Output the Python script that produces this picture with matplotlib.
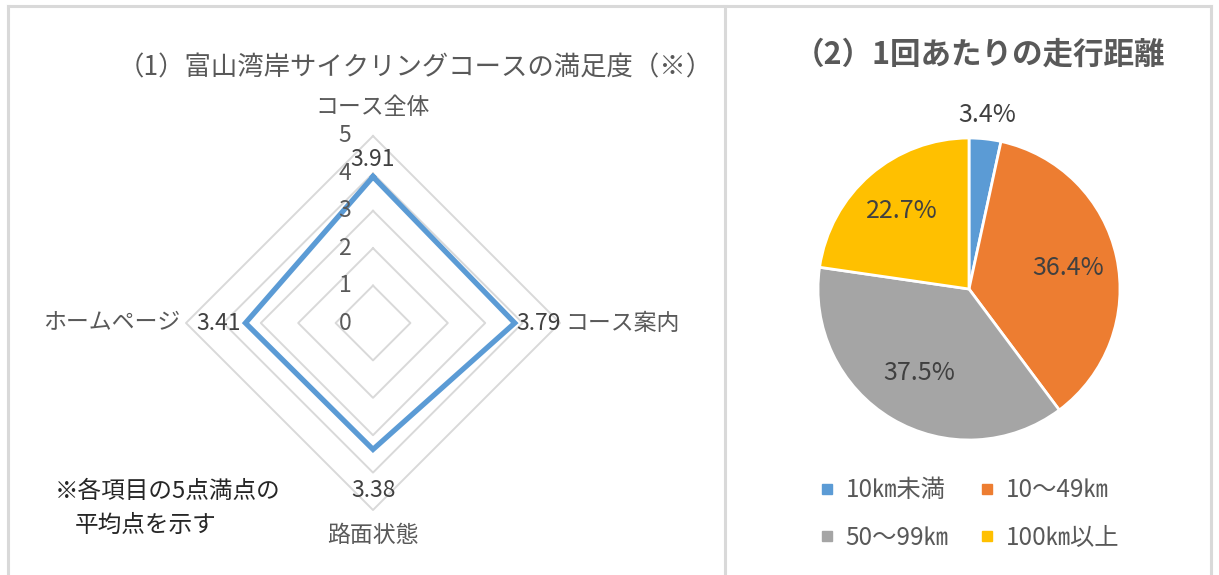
import numpy as np
import matplotlib
matplotlib.use("Agg")
import matplotlib.pyplot as plt
from matplotlib.lines import Line2D

plt.rcParams['font.family'] = ['Noto Sans CJK JP', 'DejaVu Sans']

# radar data
radar_labels = ["コース全体", "コース案内", "路面状態", "ホームページ"]
radar_values = [3.91, 3.79, 3.38, 3.41]
radar_ticks = [0, 1, 2, 3, 4, 5]

# pie data
pie_labels = ["10㎞未満", "10～49㎞", "50～99㎞", "100㎞以上"]
pie_values = [3.4, 36.4, 37.5, 22.7]
pie_colors = ["#5b9bd5", "#ed7d31", "#a5a5a5", "#ffc000"]

W, H = 1219, 575
fig = plt.figure(figsize=(W / 100, H / 100), dpi=100)

def fx(px):
    return px / W

def fy(py):
    return 1 - py / H

# panel borders
border = "#d9d9d9"
for xs, ys in [([8, 1211], [6, 6]), ([8, 8], [6, 575]),
               ([724.5, 724.5], [6, 575]), ([1211, 1211], [6, 575])]:
    fig.add_artist(Line2D([fx(x) for x in xs], [fy(y) for y in ys],
                          color=border, lw=2.2))

# ---- radar chart (left) ----
cx, cy, unit = 373, 323, 37.4
half = 250
ax = fig.add_axes([fx(cx - half), fy(cy + half), half * 2 / W, half * 2 / H])
R = half / unit
ax.set_xlim(-R, R)
ax.set_ylim(-R, R)
ax.axis("off")

ang = np.pi / 2 - np.arange(len(radar_labels)) * 2 * np.pi / len(radar_labels)
ang_c = np.append(ang, ang[0])
for t in radar_ticks[1:]:
    ax.plot(t * np.cos(ang_c), t * np.sin(ang_c), color="#d9d9d9", lw=1.4)

vals = np.append(radar_values, radar_values[0])
ax.plot(vals * np.cos(ang_c), vals * np.sin(ang_c), color="#5b9bd5", lw=3.8,
        solid_joinstyle="miter")

fs = 16.5
for t in radar_ticks:
    ax.text(-0.75, t, str(t), ha="center", va="center", fontsize=fs, color="#595959")

gray = "#595959"
# category labels
ax.text(0, 5.75, radar_labels[0], ha="center", va="center", fontsize=fs, color=gray)
ax.text(5.15, 0, radar_labels[1], ha="left", va="center", fontsize=fs, color=gray)
ax.text(0, -5.67, radar_labels[2], ha="center", va="center", fontsize=fs, color=gray)
ax.text(-5.15, 0, radar_labels[3], ha="right", va="center", fontsize=fs, color=gray)

# value labels
dark = "#404040"
ax.text(0, 4.36, f"{radar_values[0]:.2f}", ha="center", va="center", fontsize=fs, color=dark)
ax.text(radar_values[1] + 0.05, 0, f"{radar_values[1]:.2f}", ha="left", va="center", fontsize=fs, color=dark)
ax.text(0, -4.47, f"{radar_values[2]:.2f}", ha="center", va="center", fontsize=fs, color=dark)
ax.text(-radar_values[3] - 0.12, 0, f"{radar_values[3]:.2f}", ha="right", va="center", fontsize=fs, color=dark)

fig.text(fx(415), fy(68), "（1）富山湾岸サイクリングコースの満足度（※）",
         ha="center", va="center", fontsize=19, color=gray)
fig.text(fx(55), fy(492), "※各項目の5点満点の", ha="left", va="center", fontsize=17, color="#262626")
fig.text(fx(75), fy(525), "平均点を示す", ha="left", va="center", fontsize=17, color="#262626")

# ---- pie chart (right) ----
pcx, pcy, pr = 969, 289, 151
lim = 1.3
ax2 = fig.add_axes([fx(pcx - lim * pr), fy(pcy + lim * pr), 2 * lim * pr / W, 2 * lim * pr / H])
wedges, _ = ax2.pie(pie_values, colors=pie_colors, startangle=90, counterclock=False,
                    wedgeprops=dict(edgecolor="white", linewidth=2))
ax2.set_xlim(-lim, lim)
ax2.set_ylim(-lim, lim)
ax2.set_aspect("equal")
ax2.axis("off")

label_dist = [1.16, 0.67, 0.65, 0.68]
for w, v, d in zip(wedges, pie_values, label_dist):
    mid = np.deg2rad((w.theta1 + w.theta2) / 2)
    ax2.text(d * np.cos(mid), d * np.sin(mid), f"{v:.1f}%", ha="center", va="center",
             fontsize=18, color=dark)

fig.text(fx(980), fy(55), "（2）1回あたりの走行距離", ha="center", va="center",
         fontsize=22, color=gray, weight="bold")

# legend is filled row by row in the reference
order = [0, 2, 1, 3]
handles = [Line2D([], [], marker="s", ls="", color=pie_colors[i], markersize=7) for i in order]
fig.legend(handles, [pie_labels[i] for i in order], loc="center",
           bbox_to_anchor=(fx(967), fy(514)),
           ncol=2, frameon=False, fontsize=17.5, labelcolor=gray,
           handletextpad=0.25, columnspacing=1.1, labelspacing=0.9, handlelength=1.0)

fig.savefig("out.png", dpi=100)
